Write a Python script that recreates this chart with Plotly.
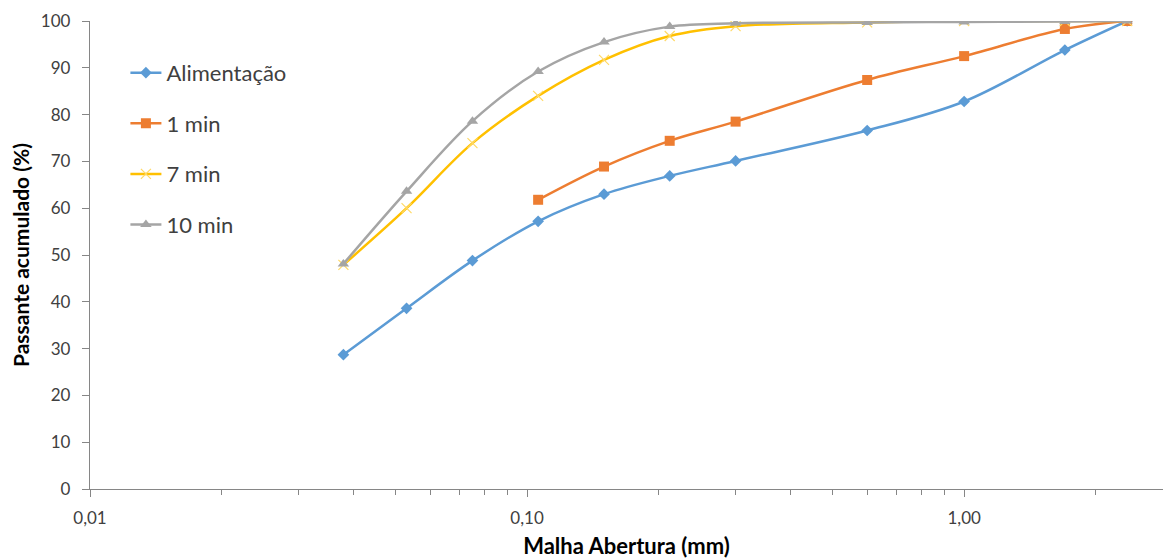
import plotly.graph_objects as go

# Sieve openings (mm) and cumulative passing (%)
abertura = [0.038, 0.053, 0.075, 0.106, 0.15, 0.212, 0.3, 0.6, 1.0, 1.7, 2.36]
alimentacao = [28.7, 38.6, 48.8, 57.2, 63.0, 66.9, 70.1, 76.6, 82.8, 93.8, 100.0]
abertura_1min = [0.106, 0.15, 0.212, 0.3, 0.6, 1.0, 1.7, 2.36]
min_1 = [61.8, 68.9, 74.4, 78.5, 87.4, 92.5, 98.3, 100.0]
min_7 = [47.9, 60.0, 73.9, 84.0, 91.7, 96.8, 98.9, 99.7, 100.0, 100.0, 100.0]
min_10 = [48.1, 63.6, 78.6, 89.2, 95.5, 98.8, 99.5, 99.7, 99.8, 99.9, 100.0]

FONT = "Lato"
AXIS_GRAY = "#868686"
TEXT_GRAY = "#404040"

fig = go.Figure()

fig.add_trace(go.Scatter(
    x=abertura, y=alimentacao, name="Alimentação", mode="lines+markers",
    line=dict(color="#5B9BD5", width=2.5, shape="spline", smoothing=1),
    marker=dict(symbol="diamond", size=9, color="#5B9BD5"),
    legendgroup="a",
))
fig.add_trace(go.Scatter(
    x=abertura_1min, y=min_1, name="1 min", mode="lines+markers",
    line=dict(color="#ED7D31", width=2.5, shape="spline", smoothing=1),
    marker=dict(symbol="square", size=10, color="#ED7D31"),
    legendgroup="b",
))
fig.add_trace(go.Scatter(
    x=abertura, y=min_7, name="7 min", mode="lines+markers",
    line=dict(color="#FFC000", width=2.5, shape="spline", smoothing=1),
    marker=dict(symbol="x-thin", size=10, color="#FFD966",
                line=dict(color="#FFD966", width=1.2)),
    legendgroup="c",
))
fig.add_trace(go.Scatter(
    x=abertura, y=min_10, name="10 min", mode="lines+markers",
    line=dict(color="#A5A5A5", width=2.5, shape="spline", smoothing=1),
    marker=dict(symbol="triangle-up", size=10, color="#A5A5A5"),
    legendgroup="d",
))

fig.update_layout(
    width=1163, height=559,
    margin=dict(l=90, r=0, t=21, b=70),
    paper_bgcolor="white", plot_bgcolor="white",
    font=dict(family=FONT, size=17, color=TEXT_GRAY),
    separators=",.",
    showlegend=True,
    legend=dict(
        x=0.033, y=0.934, xanchor="left", yanchor="top",
        font=dict(family=FONT, size=22, color=TEXT_GRAY),
        tracegroupgap=19, itemwidth=31, bgcolor="rgba(0,0,0,0)",
    ),
    xaxis=dict(
        type="log", range=[-2, 0.455],
        tickmode="linear", tick0=0, dtick=1, tickformat=".2f",
        ticks="outside", ticklen=7, tickcolor=AXIS_GRAY, ticklabelstandoff=6,
        showline=True, linecolor=AXIS_GRAY, linewidth=1.3,
        showgrid=False, zeroline=False,
        minor=dict(ticks="outside", ticklen=5, tickcolor=AXIS_GRAY, dtick="D1", showgrid=False),
        tickfont=dict(family=FONT, size=17, color=TEXT_GRAY),
        title=dict(text="<b>Malha Abertura (mm)</b>",
                   font=dict(family=FONT, size=22, color="#000000"), standoff=17),
    ),
    yaxis=dict(
        range=[0, 100], dtick=10,
        ticks="outside", ticklen=7, tickcolor=AXIS_GRAY, ticklabelstandoff=8,
        showline=True, linecolor=AXIS_GRAY, linewidth=1.3,
        showgrid=False, zeroline=False,
        tickfont=dict(family=FONT, size=17, color=TEXT_GRAY),
        title=dict(text="<b>Passante acumulado (%)</b>",
                   font=dict(family=FONT, size=21, color="#000000"), standoff=5),
    ),
)

fig.write_html("out.html")
